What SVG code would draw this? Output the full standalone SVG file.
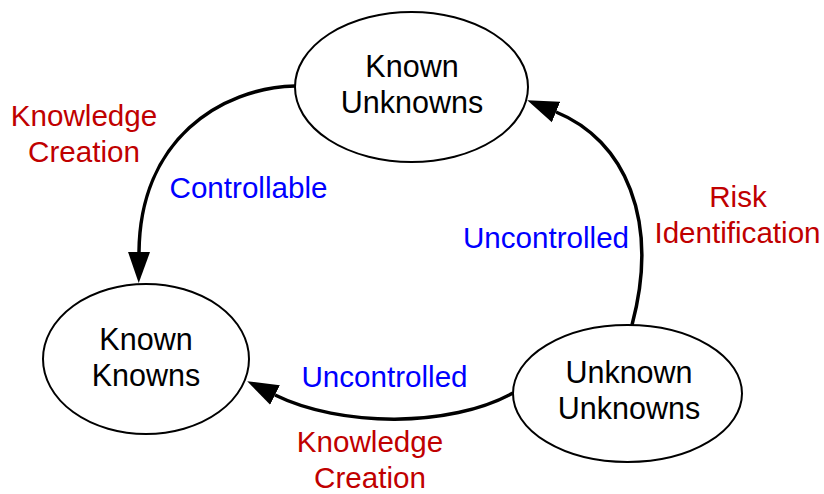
<svg xmlns="http://www.w3.org/2000/svg" width="824" height="494" viewBox="0 0 824 494">
  <style>
    .node ellipse { fill: #ffffff; stroke: #000000; stroke-width: 2; }
    .node text { font-family: "Liberation Sans", Arial, sans-serif; font-size: 30.5px; fill: #000000; text-anchor: middle; }
    .edge { fill: none; stroke: #000000; stroke-width: 3.5; }
    .lbl { font-family: "Liberation Sans", Arial, sans-serif; font-size: 29.6px; text-anchor: middle; }
    .red { fill: #C00000; }
    .blue { fill: #0000FF; }
  </style>
  <defs>
    <marker id="arrow" markerUnits="userSpaceOnUse" markerWidth="32" markerHeight="24" viewBox="0 -12 32 24" refX="0" refY="0" orient="auto">
      <path d="M0,-11 L31,0 L0,11 z" fill="#000000"/>
    </marker>
  </defs>

  <g id="connectors">
    <!-- Known Unknowns -> Known Knowns -->
    <path class="edge" d="M295,86 C220,88 140,140 139,252" marker-end="url(#arrow)"/>
    <!-- Unknown Unknowns -> Known Unknowns -->
    <path class="edge" d="M632,325 C660,220 625,140 556,112" marker-end="url(#arrow)"/>
    <!-- Unknown Unknowns -> Known Knowns -->
    <path class="edge" d="M513,393 C450,428 340,427 275,395" marker-end="url(#arrow)"/>
  </g>

  <g id="known-unknowns" class="node">
    <ellipse cx="411.5" cy="87" rx="116.5" ry="75"/>
    <text x="412" y="77">Known</text>
    <text x="412" y="113">Unknowns</text>
  </g>

  <g id="known-knowns" class="node">
    <ellipse cx="146" cy="359" rx="103" ry="75"/>
    <text x="146" y="350">Known</text>
    <text x="146" y="386">Knowns</text>
  </g>

  <g id="unknown-unknowns" class="node">
    <ellipse cx="627.5" cy="393.5" rx="114.5" ry="68.5"/>
    <text x="629" y="383">Unknown</text>
    <text x="629" y="419">Unknowns</text>
  </g>

  <g id="labels">
    <text class="lbl red" x="84" y="126">Knowledge</text>
    <text class="lbl red" x="84" y="162">Creation</text>
    <text class="lbl blue" x="248.5" y="198">Controllable</text>
    <text class="lbl blue" x="546" y="248">Uncontrolled</text>
    <text class="lbl red" x="738" y="207">Risk</text>
    <text class="lbl red" x="737.5" y="243">Identification</text>
    <text class="lbl blue" x="384.5" y="387">Uncontrolled</text>
    <text class="lbl red" x="370" y="452">Knowledge</text>
    <text class="lbl red" x="370" y="488">Creation</text>
  </g>
</svg>
